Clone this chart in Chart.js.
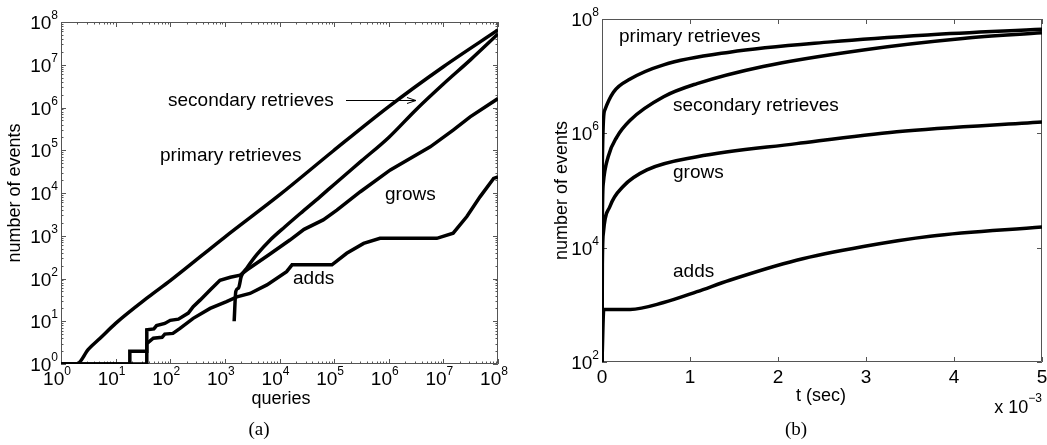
<!DOCTYPE html>
<html>
<head>
<meta charset="utf-8">
<script src="https://cdn.jsdelivr.net/npm/chart.js@4"></script>
<style>
    body { margin: 0; background: #fff; width: 1047px; height: 445px; position: relative; overflow: hidden; }
    canvas { position: absolute; top: 0; }
    #chart-a { left: 0; }
    #chart-b { left: 530px; }
    .caption { position: absolute; top: 418px; width: 60px; text-align: center; font: 19px "Liberation Serif", "Times New Roman", serif; }
</style>
</head>
<body>
<canvas id="chart-a" width="530" height="445"></canvas>
<canvas id="chart-b" width="517" height="445"></canvas>
<div class="caption" style="left:229px">(a)</div>
<div class="caption" style="left:766px">(b)</div>
<script>
// (a) events vs. queries, log-log
const queriesPrimary   = [1, 1.95, 3.16, 5.2, 10, 40, 100, 1e3, 1e4, 9.6e4, 1e6, 1e7, 1e8];
const eventsPrimary    = [1, 1, 2.2, 4, 8.9, 37, 89, 933, 9000, 9.6e4, 1.05e6, 9e6, 6.5e7];
const queriesSecondary = [1479, 1585, 1778, 1995, 2512, 3802, 6761, 12589, 23988, 54954, 1e5, 316228, 1e6, 3.16e6, 1e7, 3.16e7, 1e8];
const eventsSecondary  = [10, 50, 60, 112, 174, 355, 794, 1622, 3311, 8128, 15849, 56234, 199526, 891251, 3.55e6, 1.32e7, 5.25e7];
const queriesGrows     = [1, 18.2, 18.2, 37.2, 37.2, 50.1, 56.2, 79.4, 100, 141, 214, 263, 355, 537, 813, 1259, 1905, 2512, 6310, 15488, 28184, 63096, 112202, 301995, 1.07e6, 5.75e6, 1.51e7, 3.09e7, 1e8];
const eventsGrows      = [1, 1, 2, 2, 6.3, 6.6, 7.9, 8.9, 10.5, 11.2, 15.5, 21.9, 31.6, 53.7, 91.2, 107, 120, 158, 355, 794, 1413, 2344, 3981, 10715, 34674, 120226, 295121, 602560, 1.62e6];
const queriesAdds      = [1, 37.2, 37.2, 49, 70.8, 79.4, 112, 151, 263, 537, 1072, 1660, 2884, 5888, 13490, 16982, 91201, 169824, 346737, 691831, 7.59e6, 1.51e7, 2.69e7, 4.68e7, 8.32e7, 1e8];
const eventsAdds       = [1, 1, 3.0, 4.0, 4.2, 5.0, 5.2, 6.8, 11.7, 20, 28.8, 37.2, 44.7, 70.8, 144.5, 209, 209, 389, 661, 871, 871, 1148, 2818, 8128, 21878, 23988];

// (b) events vs. time (sec), log y
const timePrimary    = [0, 0.000004, 0.00003, 0.00013, 0.00032, 0.0007, 0.00145, 0.0026, 0.0037, 0.005];
const eventsPrimaryB = [100, 3.16e5, 2.51e6, 5.25e6, 8.9e6, 1.58e7, 2.63e7, 3.98e7, 5.25e7, 6.6e7];
const timeSecondary    = [0, 0.000004, 0.000015, 0.00007, 0.00017, 0.00032, 0.0007, 0.00108, 0.00183, 0.00297, 0.0041, 0.005];
const eventsSecondaryB = [100, 31623, 134896, 389045, 870964, 1.7e6, 4.37e6, 7.41e6, 1.48e7, 2.88e7, 4.57e7, 5.75e7];
const timeGrows    = [0, 0.000004, 0.000015, 0.00009, 0.00024, 0.00051, 0.00108, 0.00221, 0.00335, 0.005];
const eventsGrowsB = [100, 5012, 17783, 52481, 117490, 229087, 389045, 660693, 1.07e6, 1.58e6];
const timeAdds    = [0, 0.00002, 0.00032, 0.0007, 0.00108, 0.00145, 0.00221, 0.00297, 0.00373, 0.005];
const eventsAddsB = [100, 832, 832, 1096, 1698, 2692, 6026, 10471, 15849, 22909];

// ticks
const decadeTicks   = [1e0, 1e1, 1e2, 1e3, 1e4, 1e5, 1e6, 1e7, 1e8];
const decadeExps    = ['0', '1', '2', '3', '4', '5', '6', '7', '8'];
const timeTicks     = [0, 0.001, 0.002, 0.003, 0.004, 0.005];
const timeLabels    = ['0', '1', '2', '3', '4', '5'];
const eventTicksB   = [1e2, 1e4, 1e6, 1e8];
const eventExpsB    = ['2', '4', '6', '8'];

const FONT = '"Liberation Sans", Arial, Helvetica, sans-serif';
const TICK_FONT = '19px ' + FONT;
const SUP_FONT = '12px ' + FONT;
const TITLE_FONT = '18px ' + FONT;
const NOTE_FONT = '19px ' + FONT;
const AXIS_COLOR = '#555';

function minorTicks(majors) {
    const out = [];
    for (let i = 0; i < majors.length - 1; i++) {
        for (let k = 2; k <= 9; k++) out.push(majors[i] * k);
    }
    return out;
}

function points(xs, ys) {
    return xs.map((x, i) => ({ x: x, y: ys[i] }));
}

function drawPow(ctx, base, exp, x, y, align) {
    ctx.font = TICK_FONT;
    const wb = ctx.measureText(base).width;
    ctx.font = SUP_FONT;
    const we = ctx.measureText(exp).width;
    const x0 = align === 'right' ? x - wb - we : x - (wb + we) / 2;
    ctx.textAlign = 'left';
    ctx.font = TICK_FONT;
    ctx.fillText(base, x0, y);
    ctx.font = SUP_FONT;
    ctx.fillText(exp, x0 + wb, y - 10);
}

// box, inward ticks, tick labels, titles and curve notes
const frame = {
    id: 'frame',
    beforeDatasetsDraw(chart, args, o) {
        const { ctx, chartArea: a } = chart;
        const xs = chart.scales.x, ys = chart.scales.y;
        ctx.save();
        ctx.strokeStyle = AXIS_COLOR;
        ctx.lineWidth = 1;
        ctx.beginPath();
        ctx.rect(a.left + 0.5, a.top + 0.5, a.right - a.left - 1, a.bottom - a.top - 1);
        const xt = (v, len) => {
            const p = Math.round(xs.getPixelForValue(v)) + 0.5;
            ctx.moveTo(p, a.bottom); ctx.lineTo(p, a.bottom - len);
            ctx.moveTo(p, a.top); ctx.lineTo(p, a.top + len);
        };
        const yt = (v, len) => {
            const p = Math.round(ys.getPixelForValue(v)) + 0.5;
            ctx.moveTo(a.left, p); ctx.lineTo(a.left + len, p);
            ctx.moveTo(a.right, p); ctx.lineTo(a.right - len, p);
        };
        o.xMajor.forEach(v => xt(v, 5));
        o.xMinor.forEach(v => xt(v, 2.5));
        o.yMajor.forEach(v => yt(v, 5));
        o.yMinor.forEach(v => yt(v, 2.5));
        ctx.stroke();
        ctx.restore();
    },
    afterDraw(chart, args, o) {
        const { ctx, chartArea: a } = chart;
        const xs = chart.scales.x, ys = chart.scales.y;
        ctx.save();
        ctx.fillStyle = '#000';
        ctx.textBaseline = 'alphabetic';

        o.xMajor.forEach((v, i) => {
            const p = xs.getPixelForValue(v);
            if (o.xExps) {
                drawPow(ctx, '10', o.xExps[i], p - 4, o.xLabelY, 'center');
            } else {
                ctx.font = TICK_FONT;
                ctx.textAlign = 'center';
                ctx.fillText(o.xLabels[i], p, o.xLabelY);
            }
        });
        o.yMajor.forEach((v, i) => {
            drawPow(ctx, '10', o.yExps[i], a.left - 3, ys.getPixelForValue(v) + 7, 'right');
        });

        ctx.font = TITLE_FONT;
        ctx.textAlign = 'center';
        ctx.fillText(o.xTitle, o.xTitlePos[0], o.xTitlePos[1]);
        ctx.save();
        ctx.translate(o.yTitleX, (a.top + a.bottom) / 2);
        ctx.rotate(-Math.PI / 2);
        ctx.fillText('number of events', 0, 0);
        ctx.restore();

        if (o.multiplier) {
            ctx.font = TITLE_FONT;
            const wb = ctx.measureText('x 10').width;
            ctx.font = SUP_FONT;
            const we = ctx.measureText('\u22123').width;
            const x0 = a.right - wb - we;
            ctx.textAlign = 'left';
            ctx.font = TITLE_FONT;
            ctx.fillText('x 10', x0, o.multiplier);
            ctx.font = SUP_FONT;
            ctx.fillText('\u22123', x0 + wb, o.multiplier - 11);
        }

        ctx.font = NOTE_FONT;
        ctx.textAlign = 'left';
        o.notes.forEach(n => ctx.fillText(n[0], n[1], n[2]));

        if (o.arrow) {
            const [x1, x2, y] = o.arrow;
            ctx.strokeStyle = '#000';
            ctx.lineWidth = 1;
            ctx.beginPath();
            ctx.moveTo(x1, y + 0.5); ctx.lineTo(x2, y + 0.5);
            ctx.moveTo(x2 - 9, y - 2.5); ctx.lineTo(x2, y + 0.5); ctx.lineTo(x2 - 9, y + 3.5);
            ctx.stroke();
        }
        ctx.restore();
    }
};

function lineSet(label, data, smooth) {
    return {
        label: label, data: data, borderColor: '#000', borderWidth: 3.5, pointRadius: 0, fill: false,
        cubicInterpolationMode: smooth ? 'monotone' : 'default', tension: 0
    };
}

new Chart(document.getElementById('chart-a'), {
    type: 'line',
    data: {
        datasets: [
            lineSet('primary retrieves', points(queriesPrimary, eventsPrimary), true),
            lineSet('secondary retrieves', points(queriesSecondary, eventsSecondary), true),
            lineSet('grows', points(queriesGrows, eventsGrows), false),
            lineSet('adds', points(queriesAdds, eventsAdds), false)
        ]
    },
    options: {
        responsive: false,
        animation: false,
        devicePixelRatio: 1,
        layout: { padding: { left: 61, top: 22, right: 32, bottom: 81 } },
        plugins: {
            legend: { display: false },
            tooltip: { enabled: false },
            frame: {
                xMajor: decadeTicks, xMinor: minorTicks(decadeTicks), xExps: decadeExps, xLabelY: 385,
                yMajor: decadeTicks, yMinor: minorTicks(decadeTicks), yExps: decadeExps,
                xTitle: 'queries', xTitlePos: [281, 404], yTitleX: 20,
                notes: [
                    ['secondary retrieves', 168, 106],
                    ['primary retrieves', 160, 161],
                    ['grows', 385, 200],
                    ['adds', 293, 284]
                ],
                arrow: [346, 416, 100]
            }
        },
        scales: {
            x: { type: 'logarithmic', min: 1, max: 1e8, display: false },
            y: { type: 'logarithmic', min: 1, max: 1e8, display: false }
        }
    },
    plugins: [frame]
});

new Chart(document.getElementById('chart-b'), {
    type: 'line',
    data: {
        datasets: [
            lineSet('primary retrieves', points(timePrimary, eventsPrimaryB), true),
            lineSet('secondary retrieves', points(timeSecondary, eventsSecondaryB), true),
            lineSet('grows', points(timeGrows, eventsGrowsB), true),
            lineSet('adds', points(timeAdds, eventsAddsB), true)
        ]
    },
    options: {
        responsive: false,
        animation: false,
        devicePixelRatio: 1,
        layout: { padding: { left: 72, top: 19, right: 5, bottom: 83 } },
        plugins: {
            legend: { display: false },
            tooltip: { enabled: false },
            frame: {
                xMajor: timeTicks, xMinor: [], xLabels: timeLabels, xLabelY: 383,
                yMajor: eventTicksB, yMinor: [], yExps: eventExpsB,
                xTitle: 't (sec)', xTitlePos: [291, 401], yTitleX: 37,
                multiplier: 413,
                notes: [
                    ['primary retrieves', 89, 42],
                    ['secondary retrieves', 143, 111],
                    ['grows', 143, 178],
                    ['adds', 143, 277]
                ]
            }
        },
        scales: {
            x: { type: 'linear', min: 0, max: 0.005, display: false },
            y: { type: 'logarithmic', min: 100, max: 1e8, display: false }
        }
    },
    plugins: [frame]
});
</script>
</body>
</html>
